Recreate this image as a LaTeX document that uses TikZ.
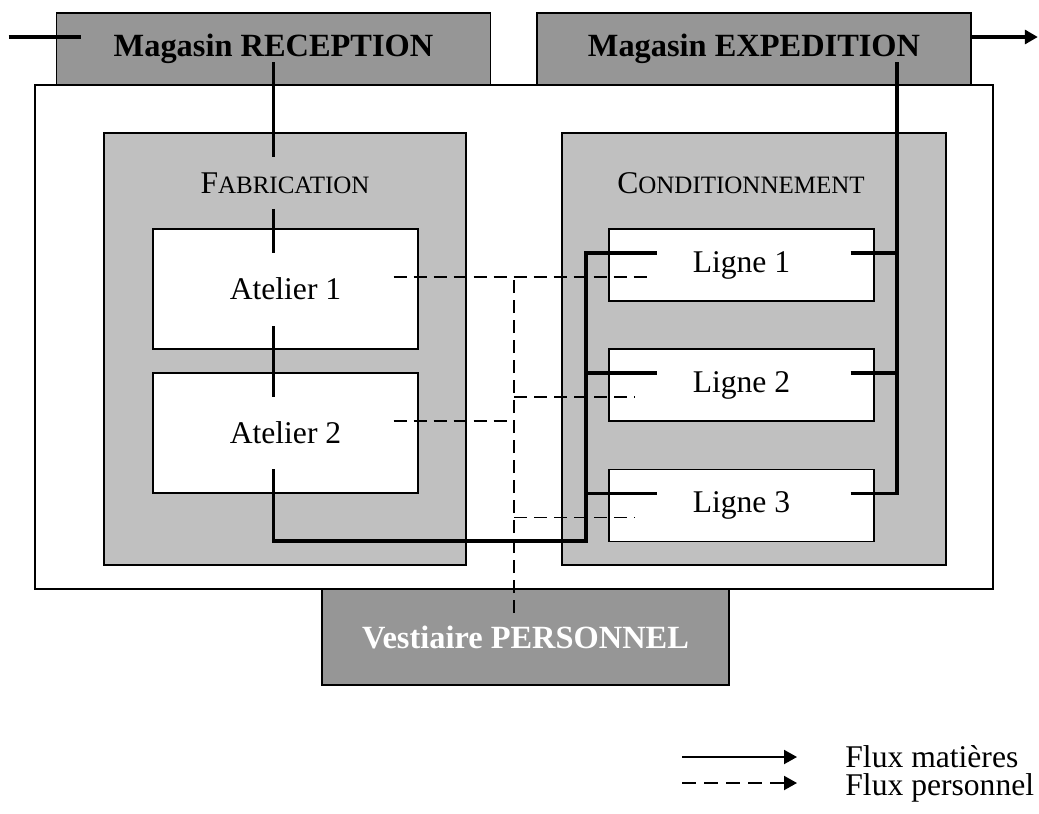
\documentclass[tikz,border=0pt]{standalone}
\usepackage{fontspec}
\setmainfont{Liberation Serif}
\usetikzlibrary{arrows.meta}
\definecolor{grisfonce}{RGB}{150,150,150}
\definecolor{grisclair}{RGB}{192,192,192}
\newcommand{\pcap}[1]{{\fontsize{12.5}{14}\selectfont #1}}

\begin{document}
\begin{tikzpicture}[x=0.5pt, y=-0.5pt, font=\fontsize{15.8}{18}\selectfont,
  magasin/.style={draw, fill=grisfonce, line width=0.8pt, font=\fontsize{16.2}{18}\selectfont\bfseries,
    minimum width=217pt, minimum height=36pt, inner sep=0pt},
  secteur/.style={draw, fill=grisclair, line width=0.7pt, minimum height=216pt, inner sep=0pt},
  poste/.style={draw, fill=white, line width=0.7pt, minimum width=132.5pt, inner sep=0pt},
  titre/.style={inner xsep=0pt, inner ysep=7.5pt},
  matiere/.style={line width=1.6pt},
  personnel/.style={line width=0.9pt, dash pattern=on 6.5pt off 3.5pt},
  fleche/.style={-{Triangle[length=6.5pt,width=7pt]}}]
\useasboundingbox (0,0) rectangle (1039,814);

% enceinte de l'usine et magasins
\node[draw, fill=white, line width=0.7pt, minimum width=479pt, minimum height=252pt, inner sep=0pt] (usine) at (514,337) {};
\node[magasin] (recep) at (273.5,49) {Magasin RECEPTION};
\node[magasin] (expe) at (754,49) {Magasin EXPEDITION};
\node[magasin, text=white, minimum width=203.5pt, minimum height=48pt] (vest) at (525.5,637) {Vestiaire PERSONNEL};

% secteurs
\node[secteur, minimum width=181pt] (fab) at (285,349) {};
\node[secteur, minimum width=192pt] (cond) at (754,349) {};
\node[titre] (fabT) at (285,183) {F\pcap{ABRICATION}};
\node[titre] (condT) at (741,183) {C\pcap{ONDITIONNEMENT}};

\node[poste, minimum height=60pt] (at1) at (285.5,289) {Atelier 1};
\node[poste, minimum height=60pt] (at2) at (285.5,433) {Atelier 2};
\node[poste, minimum height=36pt] (l1) at (741.5,265) {Ligne 1};
\node[poste, minimum height=36pt] (l2) at (741.5,385) {Ligne 2};
\node[poste, minimum height=36pt] (l3) at (741.5,505.5) {Ligne 3};

\coordinate (busG) at (586,541);
\coordinate (busD) at (897,62);
\coordinate (vestE) at ([xshift=-5.75pt,yshift=12pt]vest.center);

% flux matieres
\draw[matiere] ([xshift=-23.5pt,yshift=6pt]recep.west) -- ([xshift=12.5pt,yshift=6pt]recep.west);
\draw[matiere, shorten <=6.5pt] (recep.center) -- (recep.center |- fabT.north);
\draw[matiere, shorten >=18pt] (fabT.south -| recep.center) -- (at1.center -| recep.center);
\draw[matiere, shorten <=18.5pt, shorten >=18pt] (at1.center -| recep.center) -- (at2.center -| recep.center);
\draw[matiere, shorten <=18pt] (at2.center -| recep.center) |- (busG) |- ([xshift=24.5pt,yshift=6pt]l1.west);
\draw[matiere] ([yshift=6pt]l2.west -| busG) -- ([xshift=24.5pt,yshift=6pt]l2.west);
\draw[matiere] ([yshift=6pt]l3.west -| busG) -- ([xshift=24.5pt,yshift=6pt]l3.west);
\draw[matiere] ([xshift=-12pt,yshift=6pt]l1.east) -- ([yshift=6pt]l1.east -| busD);
\draw[matiere] ([xshift=-12pt,yshift=6pt]l2.east) -- ([yshift=6pt]l2.east -| busD);
\draw[matiere] ([xshift=-12pt,yshift=6pt]l3.east) -| (busD);
\draw[matiere, fleche] ([yshift=6pt]expe.east) -- ([xshift=33pt,yshift=6pt]expe.east);

% flux personnel
\draw[personnel] ([xshift=-12.5pt,yshift=6pt]at1.east) -- ([xshift=21pt,yshift=-6pt]l1.west);
\draw[personnel] (vestE) -- ([yshift=-6pt]l1.west -| vestE);
\draw[personnel] ([xshift=-12.5pt,yshift=6pt]at2.east) -- ([yshift=6pt]at2.east -| vestE);
\draw[personnel] ([yshift=-6pt]l2.west -| vestE) -- ([xshift=13pt,yshift=-6pt]l2.west);
\draw[personnel] ([yshift=-6pt]l3.west -| vestE) -- ([xshift=13pt,yshift=-6pt]l3.west);

% legende
\node[anchor=base west, inner sep=0pt] (lmat) at (845,767) {Flux matières};
\node[anchor=base west, inner sep=0pt] (lpers) at (845,795) {Flux personnel};
\draw[line width=1pt, fleche] ([xshift=-81.5pt,yshift=5pt]lmat.base west) -- ([xshift=-24pt,yshift=5pt]lmat.base west);
\draw[line width=1pt, dash pattern=on 7pt off 4pt, fleche] ([xshift=-81.5pt,yshift=6pt]lpers.base west) -- ([xshift=-24pt,yshift=6pt]lpers.base west);
\end{tikzpicture}
\end{document}
